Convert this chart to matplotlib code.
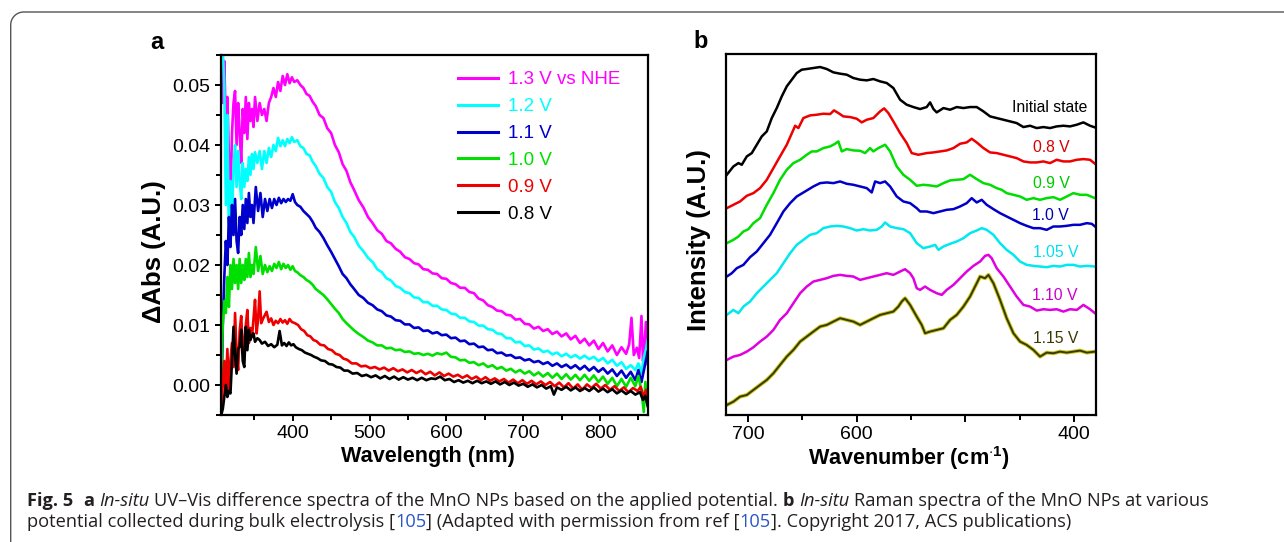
import numpy as np
import matplotlib
import matplotlib.pyplot as plt
from matplotlib.lines import Line2D
from matplotlib.transforms import IdentityTransform
from matplotlib import font_manager

# ---------------- data: panel a, UV-Vis difference spectra (nm, dAbs) ----------------
uv_labels = ["1.3 V vs NHE", "1.2 V", "1.1 V", "1.0 V", "0.9 V", "0.8 V"]
uv_colors = ["#ff00ff", "#00ffff", "#0000cc", "#00e000", "#ee0000", "#000000"]

uv_13 = [(307, 0.056), (309, 0.047), (311, 0.054), (313, 0.043), (315, 0.048), (317, 0.038), (319, 0.031),
         (321, 0.042), (323, 0.047), (325, 0.049), (327, 0.040), (329, 0.047), (331, 0.042), (333, 0.037),
         (335, 0.046), (337, 0.042), (339, 0.048), (341, 0.041), (343, 0.047), (345, 0.044), (347, 0.046),
         (349, 0.043), (351, 0.048), (354, 0.044), (357, 0.047), (360, 0.045), (363, 0.046), (366, 0.044),
         (369, 0.047), (372, 0.048), (375, 0.0495), (378, 0.048), (381, 0.0505), (384, 0.049), (387, 0.0515),
         (390, 0.0500), (393, 0.0518), (396, 0.0503), (399, 0.0513), (402, 0.0505), (406, 0.0508), (410, 0.0500),
         (414, 0.0495), (418, 0.0485), (422, 0.0482), (426, 0.0472), (430, 0.0465), (435, 0.0450), (440, 0.0445),
         (445, 0.0428), (450, 0.0420), (455, 0.0400), (460, 0.0388), (465, 0.0368), (470, 0.0357), (475, 0.0338),
         (480, 0.0325), (486, 0.0308), (492, 0.0296), (498, 0.0280), (504, 0.0270), (510, 0.0258), (516, 0.0252),
         (522, 0.0240), (528, 0.0236), (534, 0.0227), (540, 0.0222), (546, 0.0213), (552, 0.0210), (558, 0.0203),
         (564, 0.0201), (570, 0.0193), (576, 0.0192), (582, 0.0186), (588, 0.0185), (594, 0.0178), (600, 0.0177),
         (606, 0.0170), (612, 0.0168), (618, 0.0162), (624, 0.0162), (630, 0.0155), (636, 0.0153), (642, 0.0144),
         (648, 0.0141), (654, 0.0133), (660, 0.0130), (666, 0.0124), (672, 0.0123), (678, 0.0117), (684, 0.0116),
         (690, 0.0109), (696, 0.0110), (702, 0.0102), (708, 0.0101), (714, 0.0094), (720, 0.0097), (726, 0.0090),
         (732, 0.0093), (738, 0.0085), (744, 0.0089), (750, 0.0081), (756, 0.0086), (762, 0.0076), (768, 0.0082),
         (774, 0.0070), (780, 0.0077), (786, 0.0066), (792, 0.0074), (798, 0.0060), (804, 0.0070), (810, 0.0056),
         (816, 0.0066), (822, 0.0050), (828, 0.0063), (834, 0.0052), (838, 0.0068), (841, 0.0112), (844, 0.0050),
         (848, 0.0062), (851, 0.0045), (854, 0.0115), (856, 0.0040), (858, 0.0070), (860, 0.0105), (862, 0.0035)]

uv_12 = [(307, 0.056), (309, 0.056), (311, 0.050), (313, 0.030), (315, 0.045), (317, 0.024), (319, 0.034),
         (321, 0.028), (323, 0.036), (325, 0.040), (327, 0.033), (329, 0.039), (331, 0.034), (333, 0.031),
         (335, 0.037), (337, 0.033), (339, 0.036), (341, 0.034), (343, 0.038), (345, 0.035), (347, 0.0385),
         (349, 0.036), (351, 0.0388), (354, 0.037), (357, 0.039), (360, 0.036), (363, 0.039), (366, 0.037),
         (369, 0.0395), (372, 0.038), (375, 0.040), (378, 0.039), (381, 0.0412), (384, 0.0398), (387, 0.0408),
         (390, 0.0398), (393, 0.0410), (396, 0.0403), (399, 0.0413), (402, 0.0405), (406, 0.0408), (410, 0.0398),
         (414, 0.0395), (418, 0.0385), (422, 0.0383), (426, 0.0372), (430, 0.0365), (435, 0.0352), (440, 0.0345),
         (445, 0.0330), (450, 0.0322), (455, 0.0305), (460, 0.0295), (465, 0.0280), (470, 0.0270), (475, 0.0255),
         (480, 0.0247), (486, 0.0232), (492, 0.0223), (498, 0.0212), (504, 0.0205), (510, 0.0193), (516, 0.0188),
         (522, 0.0178), (528, 0.0174), (534, 0.0165), (540, 0.0162), (546, 0.0155), (552, 0.0153), (558, 0.0146),
         (564, 0.0145), (570, 0.0138), (576, 0.0138), (582, 0.0132), (588, 0.0132), (594, 0.0126), (600, 0.0125),
         (606, 0.0119), (612, 0.0118), (618, 0.0112), (624, 0.0112), (630, 0.0106), (636, 0.0105), (642, 0.0099),
         (648, 0.0099), (654, 0.0093), (660, 0.0092), (666, 0.0086), (672, 0.0085), (678, 0.0078), (684, 0.0078),
         (690, 0.0071), (696, 0.0072), (702, 0.0065), (708, 0.0066), (714, 0.0059), (720, 0.0061), (726, 0.0055),
         (732, 0.0057), (738, 0.0051), (744, 0.0054), (750, 0.0048), (756, 0.0052), (762, 0.0046), (768, 0.0050),
         (774, 0.0044), (780, 0.0049), (786, 0.0043), (792, 0.0047), (798, 0.0040), (804, 0.0045), (810, 0.0036),
         (816, 0.0042), (822, 0.0032), (828, 0.0038), (834, 0.0027), (840, 0.0033), (846, 0.0025), (850, 0.0036),
         (854, 0.0020), (857, 0.0045), (860, 0.0060), (862, 0.0075)]

uv_11 = [(307, -0.005), (309, 0.010), (311, 0.018), (313, 0.024), (315, 0.020), (317, 0.028), (319, 0.023),
         (321, 0.030), (323, 0.025), (325, 0.031), (327, 0.024), (329, 0.022), (331, 0.028), (333, 0.025),
         (335, 0.030), (337, 0.026), (339, 0.031), (341, 0.027), (343, 0.032), (345, 0.028), (347, 0.030),
         (349, 0.027), (352, 0.033), (355, 0.029), (358, 0.032), (361, 0.028), (364, 0.031), (367, 0.029),
         (370, 0.031), (373, 0.0295), (376, 0.031), (379, 0.030), (382, 0.0312), (385, 0.0303), (388, 0.0310),
         (391, 0.0305), (394, 0.0310), (397, 0.0307), (400, 0.0318), (403, 0.0305), (406, 0.0300), (410, 0.0297),
         (414, 0.0290), (418, 0.0285), (422, 0.0280), (426, 0.0272), (430, 0.0262), (435, 0.0255), (440, 0.0245),
         (445, 0.0233), (450, 0.0222), (455, 0.0210), (460, 0.0198), (465, 0.0185), (470, 0.0178), (475, 0.0168),
         (480, 0.0160), (486, 0.0150), (492, 0.0145), (498, 0.0137), (504, 0.0133), (510, 0.0126), (516, 0.0123),
         (522, 0.0116), (528, 0.0114), (534, 0.0108), (540, 0.0107), (546, 0.0101), (552, 0.0101), (558, 0.0095),
         (564, 0.0096), (570, 0.0090), (576, 0.0091), (582, 0.0086), (588, 0.0088), (594, 0.0083), (600, 0.0084),
         (606, 0.0078), (612, 0.0079), (618, 0.0073), (624, 0.0074), (630, 0.0068), (636, 0.0069), (642, 0.0063),
         (648, 0.0064), (654, 0.0058), (660, 0.0059), (666, 0.0053), (672, 0.0054), (678, 0.0049), (684, 0.0050),
         (690, 0.0045), (696, 0.0046), (702, 0.0041), (708, 0.0043), (714, 0.0038), (720, 0.0040), (726, 0.0035),
         (732, 0.0038), (738, 0.0032), (744, 0.0036), (750, 0.0030), (756, 0.0034), (762, 0.0028), (768, 0.0033),
         (774, 0.0026), (780, 0.0032), (786, 0.0024), (792, 0.0030), (798, 0.0022), (804, 0.0028), (810, 0.0019),
         (816, 0.0026), (822, 0.0015), (828, 0.0024), (834, 0.0012), (840, 0.0022), (846, 0.0008), (850, 0.0025),
         (854, 0.0005), (858, 0.0030), (862, 0.0055)]

uv_10 = [(307, 0.002), (309, 0.010), (311, 0.014), (313, 0.012), (315, 0.018), (317, 0.013), (319, 0.020),
         (321, 0.016), (323, 0.021), (325, 0.017), (327, 0.020), (329, 0.016), (331, 0.021), (333, 0.017),
         (335, 0.020), (337, 0.0175), (339, 0.021), (341, 0.018), (343, 0.022), (345, 0.018), (347, 0.020),
         (349, 0.0185), (352, 0.023), (355, 0.019), (358, 0.0215), (361, 0.0185), (364, 0.020), (367, 0.0188),
         (370, 0.0198), (373, 0.019), (376, 0.0202), (379, 0.0195), (382, 0.0205), (385, 0.0193), (388, 0.0202),
         (391, 0.0195), (394, 0.0200), (397, 0.0192), (400, 0.0198), (403, 0.0190), (406, 0.0188), (410, 0.0183),
         (414, 0.0180), (418, 0.0175), (422, 0.0172), (426, 0.0167), (430, 0.0160), (435, 0.0155), (440, 0.0150),
         (445, 0.0143), (450, 0.0135), (455, 0.0127), (460, 0.0120), (465, 0.0110), (470, 0.0103), (475, 0.0097),
         (480, 0.0091), (486, 0.0085), (492, 0.0080), (498, 0.0074), (504, 0.0071), (510, 0.0066), (516, 0.0066),
         (522, 0.0061), (528, 0.0062), (534, 0.0058), (540, 0.0059), (546, 0.0055), (552, 0.0056), (558, 0.0052),
         (564, 0.0053), (570, 0.0050), (576, 0.0052), (582, 0.0049), (588, 0.0053), (594, 0.0051), (600, 0.0054),
         (606, 0.0047), (612, 0.0046), (618, 0.0041), (624, 0.0042), (630, 0.0037), (636, 0.0038), (642, 0.0033),
         (648, 0.0036), (654, 0.0030), (660, 0.0033), (666, 0.0027), (672, 0.0030), (678, 0.0024), (684, 0.0027),
         (690, 0.0021), (696, 0.0025), (702, 0.0019), (708, 0.0023), (714, 0.0016), (720, 0.0021), (726, 0.0014),
         (732, 0.0020), (738, 0.0012), (744, 0.0019), (750, 0.0010), (756, 0.0018), (762, 0.0009), (768, 0.0017),
         (774, 0.0008), (780, 0.0017), (786, 0.0007), (792, 0.0016), (798, 0.0005), (804, 0.0014), (810, 0.0002),
         (816, 0.0012), (822, -0.0002), (828, 0.0010), (834, -0.0003), (840, 0.0012), (846, -0.0002), (850, 0.0015),
         (854, -0.0010), (857, -0.0045), (859, 0.0005), (862, -0.0030)]

uv_09 = [(307, -0.004), (309, 0.000), (311, 0.004), (313, -0.001), (315, 0.006), (317, -0.001), (319, 0.004),
         (321, 0.007), (323, 0.003), (325, 0.012), (327, 0.005), (329, 0.0025), (331, 0.009), (333, 0.0115),
         (335, 0.006), (337, 0.007), (339, 0.010), (341, 0.0125), (343, 0.007), (345, 0.0095), (347, 0.008),
         (349, 0.011), (351, 0.0142), (353, 0.0086), (355, 0.011), (357, 0.0156), (359, 0.0103), (362, 0.0112),
         (366, 0.0122), (369, 0.0105), (372, 0.0111), (375, 0.0100), (378, 0.0107), (381, 0.0103), (384, 0.0110),
         (387, 0.0104), (390, 0.0108), (393, 0.0102), (396, 0.0110), (399, 0.0105), (403, 0.0103), (407, 0.0100),
         (411, 0.0093), (415, 0.0090), (419, 0.0083), (423, 0.0081), (427, 0.0075), (431, 0.0073), (436, 0.0067),
         (441, 0.0066), (446, 0.0060), (451, 0.0058), (456, 0.0052), (461, 0.0050), (466, 0.0044), (471, 0.0042),
         (477, 0.0036), (483, 0.0036), (489, 0.0031), (495, 0.0032), (501, 0.0028), (507, 0.0030), (513, 0.0026),
         (519, 0.0029), (525, 0.0024), (531, 0.0028), (537, 0.0023), (543, 0.0026), (549, 0.0021), (555, 0.0025),
         (561, 0.0020), (567, 0.0024), (573, 0.0018), (579, 0.0022), (585, 0.0016), (591, 0.0021), (597, 0.0015),
         (603, 0.0019), (609, 0.0014), (615, 0.0017), (621, 0.0012), (627, 0.0016), (633, 0.0010), (639, 0.0014),
         (645, 0.0008), (651, 0.0013), (657, 0.0007), (663, 0.0011), (669, 0.0006), (675, 0.0010), (681, 0.0004),
         (687, 0.0009), (693, 0.0003), (699, 0.0008), (705, 0.0002), (711, 0.0007), (717, 0.0001), (723, 0.0006),
         (729, 0.0000), (735, 0.0005), (741, -0.0002), (747, 0.0004), (753, -0.0004), (759, 0.0003), (765, -0.0006),
         (771, 0.0001), (777, -0.0008), (783, 0.0001), (789, -0.0005), (795, 0.0002), (801, -0.0006), (807, 0.0000),
         (813, -0.0008), (819, -0.0002), (825, -0.0010), (831, -0.0004), (837, -0.0012), (843, -0.0005),
         (849, -0.0010), (853, -0.0003), (857, -0.0020), (860, -0.0008), (862, -0.0030)]

uv_08 = [(307, -0.005), (309, -0.004), (311, -0.002), (313, 0.000), (315, -0.002), (317, -0.001), (319, -0.0014),
         (321, 0.004), (323, 0.0097), (325, 0.005), (327, 0.0019), (329, 0.006), (331, 0.0064), (333, 0.0092),
         (335, 0.004), (337, 0.003), (339, 0.0097), (341, 0.0058), (343, 0.0092), (345, 0.0075), (347, 0.0083),
         (349, 0.0086), (351, 0.0072), (354, 0.0078), (357, 0.0075), (360, 0.0069), (364, 0.0072), (368, 0.0065),
         (372, 0.0068), (376, 0.0063), (380, 0.0067), (383, 0.0090), (386, 0.0066), (389, 0.0070), (392, 0.0065),
         (395, 0.0071), (398, 0.0066), (401, 0.0068), (404, 0.0063), (408, 0.0060), (412, 0.0058), (416, 0.0054),
         (420, 0.0052), (424, 0.0050), (428, 0.0047), (432, 0.0045), (437, 0.0041), (442, 0.0040), (447, 0.0035),
         (452, 0.0034), (457, 0.0030), (462, 0.0029), (467, 0.0024), (472, 0.0024), (478, 0.0019), (484, 0.0020),
         (490, 0.0015), (496, 0.0017), (502, 0.0013), (508, 0.0016), (514, 0.0011), (520, 0.0015), (526, 0.0010),
         (532, 0.0014), (538, 0.0009), (544, 0.0013), (550, 0.0009), (556, 0.0012), (562, 0.0008), (568, 0.0012),
         (574, 0.0008), (580, 0.0011), (586, 0.0010), (592, 0.0014), (598, 0.0008), (604, 0.0010), (610, 0.0005),
         (616, 0.0008), (622, 0.0004), (628, 0.0007), (634, 0.0003), (640, 0.0007), (646, 0.0003), (652, 0.0006),
         (658, 0.0002), (664, 0.0006), (670, 0.0001), (676, 0.0005), (682, 0.0000), (688, 0.0004), (694, -0.0001),
         (700, 0.0002), (706, -0.0003), (712, 0.0001), (718, -0.0004), (724, 0.0000), (730, -0.0006), (736, -0.0002),
         (740, -0.0016), (744, -0.0004), (750, -0.0008), (756, -0.0003), (762, -0.0009), (768, -0.0004),
         (774, -0.0010), (780, -0.0005), (786, -0.0010), (792, -0.0004), (798, -0.0011), (804, -0.0006),
         (810, -0.0012), (816, -0.0007), (822, -0.0014), (828, -0.0009), (834, -0.0015), (840, -0.0010),
         (846, -0.0016), (852, -0.0012), (856, -0.0025), (859, -0.0018), (862, -0.0035)]

uv_series = [uv_13, uv_12, uv_11, uv_10, uv_09, uv_08]

# ---------------- data: panel b, Raman spectra (cm-1, intensity a.u., offset stack) ----------------
raman_labels = ["Initial state", "0.8 V", "0.9 V", "1.0 V", "1.05 V", "1.10 V", "1.15 V"]
raman_colors = ["#000000", "#ee0000", "#00dd00", "#0000c8", "#00e8f0", "#e000e0", "#3a3a00"]
raman_text_colors = ["#000000", "#d40000", "#00c800", "#0000b0", "#00e0f0", "#cc00cc", "#3a3a00"]

raman_init = [(719.6, 720), (713.5, 745), (708.9, 755), (705.8, 750), (701.2, 775), (696.6, 785), (692.0, 810),
              (687.4, 835), (682.8, 850), (678.2, 890), (673.6, 920), (669.0, 955), (664.4, 985), (659.8, 1005),
              (655.2, 1025), (650.6, 1035), (646.0, 1037), (639.9, 1040), (633.7, 1043), (627.6, 1037),
              (621.5, 1027), (615.3, 1023), (609.2, 1020), (603.1, 1010), (596.9, 1005), (590.8, 1003),
              (584.7, 1007), (578.5, 1000), (572.4, 995), (566.3, 980), (560.1, 945), (554.0, 930), (547.9, 923),
              (541.7, 917), (535.6, 923), (532.5, 937), (529.4, 917), (526.4, 907), (520.2, 920), (514.1, 915),
              (508.0, 923), (501.8, 920), (495.7, 923), (489.6, 923), (483.4, 910), (477.3, 895), (471.2, 890),
              (465.0, 885), (458.9, 880), (452.8, 875), (446.6, 863), (440.5, 867), (434.4, 860), (428.2, 863),
              (422.1, 860), (416.0, 865), (409.8, 867), (403.7, 865), (397.5, 870), (391.4, 877), (385.3, 867),
              (380.7, 862)]

raman_08 = [(719.6, 620), (713.5, 630), (707.4, 640), (701.2, 657), (695.1, 665), (689.0, 680), (682.8, 705),
            (676.7, 740), (670.6, 775), (664.4, 810), (658.3, 855), (656.7, 867), (653.7, 860), (649.1, 890),
            (642.9, 898), (636.8, 900), (630.7, 903), (624.5, 902), (620.9, 913), (616.9, 905), (612.3, 895),
            (606.1, 893), (600.0, 888), (595.4, 877), (590.8, 885), (584.7, 890), (578.5, 910), (574.8, 919),
            (570.9, 905), (566.3, 880), (560.1, 845), (554.0, 815), (549.4, 785), (543.3, 780), (535.6, 785),
            (529.4, 787), (523.3, 790), (517.2, 793), (511.0, 800), (504.9, 813), (498.8, 817), (494.2, 828),
            (489.6, 817), (483.4, 800), (477.3, 787), (471.2, 785), (465.0, 780), (458.9, 775), (452.8, 770),
            (446.6, 760), (440.5, 757), (434.4, 757), (428.2, 760), (422.1, 755), (416.0, 765), (409.8, 760),
            (403.7, 760), (397.5, 765), (391.4, 767), (385.3, 765), (380.7, 753)]

raman_09 = [(719.6, 515), (713.5, 525), (708.9, 535), (704.3, 550), (699.7, 557), (695.1, 575), (689.0, 590),
            (682.8, 630), (676.7, 665), (670.6, 705), (664.4, 735), (658.3, 755), (652.1, 765), (646.0, 780),
            (641.4, 790), (636.8, 790), (630.7, 800), (624.5, 805), (619.9, 813), (616.9, 820), (613.8, 790),
            (609.2, 797), (603.1, 793), (596.9, 792), (592.3, 785), (587.7, 800), (584.7, 790), (580.1, 800),
            (573.9, 810), (569.3, 790), (563.2, 745), (557.1, 720), (550.9, 705), (544.8, 687), (538.7, 690),
            (532.5, 688), (526.4, 685), (520.2, 695), (514.1, 703), (508.0, 705), (501.8, 707), (495.7, 720),
            (489.6, 707), (483.4, 695), (477.3, 690), (471.2, 680), (466.6, 675), (462.0, 665), (455.8, 660),
            (449.7, 655), (443.6, 645), (437.4, 650), (431.3, 645), (425.2, 650), (419.0, 653), (412.9, 645),
            (406.7, 655), (400.6, 665), (394.5, 660), (388.3, 660), (380.7, 650)]

raman_10 = [(719.6, 415), (715.0, 425), (710.4, 440), (704.3, 450), (698.2, 473), (692.0, 490), (685.9, 515),
            (679.8, 540), (673.6, 575), (667.5, 610), (661.3, 635), (655.2, 655), (647.5, 670), (639.9, 685),
            (633.7, 695), (627.6, 697), (621.5, 695), (615.3, 700), (609.2, 693), (603.1, 690), (596.9, 685),
            (590.8, 680), (586.2, 667), (583.1, 700), (578.5, 695), (573.9, 700), (569.3, 685), (563.2, 655),
            (557.1, 640), (550.9, 635), (544.8, 620), (541.7, 610), (535.6, 610), (529.4, 605), (523.3, 610),
            (517.2, 615), (511.0, 617), (504.9, 625), (498.8, 635), (494.2, 650), (489.6, 637), (485.0, 645),
            (480.4, 630), (474.2, 617), (468.1, 605), (462.0, 595), (455.8, 585), (449.7, 575), (443.6, 567),
            (437.4, 560), (431.3, 560), (425.2, 555), (419.0, 565), (412.9, 565), (406.7, 567), (400.6, 570),
            (394.5, 570), (388.3, 575), (383.7, 573), (380.7, 565)]

raman_105 = [(719.6, 300), (713.5, 315), (708.9, 305), (704.3, 325), (698.2, 340), (692.0, 365), (685.9, 385),
             (679.8, 405), (673.6, 425), (667.5, 455), (661.3, 485), (655.2, 510), (649.1, 525), (642.9, 540),
             (636.8, 545), (630.7, 560), (624.5, 565), (618.4, 567), (612.3, 565), (606.1, 560), (600.0, 553),
             (593.9, 557), (587.7, 553), (581.6, 555), (577.0, 565), (573.9, 577), (569.3, 565), (563.2, 560),
             (557.1, 557), (550.9, 545), (544.8, 515), (538.7, 500), (532.5, 505), (527.9, 510), (524.8, 495),
             (520.2, 505), (514.1, 513), (508.0, 520), (501.8, 530), (495.7, 545), (489.6, 553), (485.0, 560),
             (480.4, 555), (474.2, 540), (468.1, 515), (462.0, 495), (455.8, 480), (449.7, 460), (443.6, 450),
             (437.4, 447), (431.3, 445), (425.2, 443), (419.0, 447), (412.9, 445), (406.7, 450), (400.6, 450),
             (394.5, 445), (388.3, 447), (380.7, 445)]

raman_110 = [(719.6, 165), (713.5, 175), (707.4, 180), (701.2, 190), (695.1, 203), (689.0, 220), (682.8, 235),
             (676.7, 255), (670.6, 285), (664.4, 305), (658.3, 335), (652.1, 365), (646.0, 385), (639.9, 400),
             (633.7, 405), (627.6, 410), (621.5, 417), (615.3, 420), (609.2, 417), (603.1, 415), (596.9, 405),
             (590.8, 410), (584.7, 415), (578.5, 420), (572.4, 425), (566.3, 420), (560.1, 430), (555.5, 437),
             (550.9, 425), (547.9, 410), (544.8, 380), (541.7, 375), (537.1, 385), (532.5, 375), (526.4, 365),
             (521.8, 360), (517.2, 375), (511.0, 390), (504.9, 410), (498.8, 430), (492.6, 447), (486.5, 460),
             (481.9, 477), (478.8, 480), (475.8, 470), (471.2, 440), (465.0, 415), (458.9, 385), (452.8, 355),
             (446.6, 330), (440.5, 325), (434.4, 313), (428.2, 317), (422.1, 315), (416.0, 317), (409.8, 310),
             (403.7, 317), (397.5, 315), (391.4, 330), (385.3, 317), (380.7, 305)]

raman_115 = [(719.6, 30), (713.5, 40), (707.4, 55), (701.2, 60), (695.1, 75), (689.0, 90), (682.8, 105),
             (676.7, 125), (670.6, 150), (664.4, 175), (658.3, 195), (652.1, 220), (646.0, 235), (639.9, 250),
             (633.7, 265), (627.6, 270), (621.5, 280), (615.3, 290), (609.2, 285), (603.1, 280), (596.9, 270),
             (590.8, 280), (584.7, 290), (578.5, 300), (572.4, 305), (566.3, 310), (561.7, 325), (558.6, 340),
             (555.5, 350), (550.9, 330), (544.8, 295), (540.2, 270), (537.1, 245), (532.5, 250), (526.4, 255),
             (520.2, 260), (514.1, 285), (508.0, 300), (501.8, 325), (495.7, 355), (491.1, 385), (486.5, 415),
             (481.9, 410), (478.8, 420), (474.2, 395), (468.1, 345), (462.0, 290), (455.8, 245), (449.7, 220),
             (443.6, 210), (437.4, 195), (431.3, 175), (425.2, 187), (419.0, 185), (412.9, 190), (406.7, 187),
             (400.6, 190), (394.5, 193), (388.3, 187), (380.7, 190)]

raman_series = [raman_init, raman_08, raman_09, raman_10, raman_105, raman_110, raman_115]

# caption
caption_line1 = [("Fig. 5", "bold", "k", 2.2), ("a", "bold", "k", 1), ("In-situ", "italic", "k", 1),
                 ("UV\u2013Vis difference spectra of the MnO NPs based on the applied potential.", "normal", "k", 1),
                 ("b", "bold", "k", 1), ("In-situ", "italic", "k", 1),
                 ("Raman spectra of the MnO NPs at various", "normal", "k", 0)]
caption_line2 = [("potential collected during bulk electrolysis [", "normal", "k", 0), ("105", "normal", "b", 0),
                 ("] (Adapted with permission from ref [", "normal", "k", 0), ("105", "normal", "b", 0),
                 ("]. Copyright 2017, ACS publications)", "normal", "k", 0)]

# ---------------- figure ----------------
W, H = 1284, 542
plt.rcParams['font.family'] = ['Liberation Sans', 'DejaVu Sans']
plt.rcParams['mathtext.fontset'] = 'custom'
plt.rcParams['mathtext.rm'] = 'Liberation Sans'
plt.rcParams['mathtext.bf'] = 'Liberation Sans:bold'

fig = plt.figure(figsize=(W / 100, H / 100), dpi=100)
fig.patch.set_facecolor('white')


def px_axes(x0, y0, x1, y1):
    return fig.add_axes([x0 / W, 1 - y1 / H, (x1 - x0) / W, (y1 - y0) / H])


def style_axes(ax):
    for s in ax.spines.values():
        s.set_linewidth(1.6)
    ax.tick_params(which='both', direction='out', top=False, right=False, width=1.4, labelsize=14, pad=3)
    ax.tick_params(which='major', length=4.5)
    ax.tick_params(which='minor', length=3.5)


# panel a
ax1 = px_axes(221, 55, 648, 415)
for data, col, lab in zip(uv_series, uv_colors, uv_labels):
    arr = np.array(data)
    ax1.plot(arr[:, 0], arr[:, 1], color=col, lw=1.9, label=lab, solid_joinstyle='round')
ax1.set_xlim(306.7, 862.5)
ax1.set_ylim(-0.005, 0.055)
ax1.set_xticks([400, 500, 600, 700, 800])
ax1.set_xticks([350, 450, 550, 650, 750, 850], minor=True)
ax1.set_yticks([0.0, 0.01, 0.02, 0.03, 0.04, 0.05])
ax1.set_yticklabels(["0.00", "0.01", "0.02", "0.03", "0.04", "0.05"])
ax1.set_yticks(np.arange(-0.005, 0.056, 0.01), minor=True)
style_axes(ax1)
ax1.set_xlabel("Wavelength (nm)", fontsize=15.6, fontweight='bold')
ax1.set_ylabel("\u0394Abs (A.U.)", fontsize=18.5, fontweight='bold')
ax1.xaxis.set_label_coords(0.485, -0.085)
ax1.yaxis.set_label_coords(-0.128, 0.455)
leg = ax1.legend(loc='upper left', bbox_to_anchor=(0.555, 0.955), frameon=False, fontsize=13.5,
                 handlelength=2.13, handletextpad=0.53, labelspacing=0.52, borderaxespad=0, borderpad=0,
                 labelcolor='linecolor')
for h in leg.get_lines():
    h.set_linewidth(2.2)

# panel b
ax2 = px_axes(725.7, 54, 1096, 415)
for i, (data, col) in enumerate(zip(raman_series, raman_colors)):
    arr = np.array(data)
    if i == len(raman_series) - 1:
        ax2.plot(arr[:, 0], arr[:, 1], color='#c8c820', lw=2.8, solid_joinstyle='round')
        ax2.plot(arr[:, 0], arr[:, 1], color=col, lw=1.4, solid_joinstyle='round')
    else:
        ax2.plot(arr[:, 0], arr[:, 1], color=col, lw=1.8, solid_joinstyle='round')
ax2.set_xlim(720.6, 379.8)
ax2.set_ylim(0, 1082)
ax2.set_xticks([700, 600, 500, 400])
ax2.set_xticklabels(["700", "600", "", "400"])
ax2.set_xticks([650, 550, 450], minor=True)
ax2.set_yticks([])
style_axes(ax2)
ax2.tick_params(which='major', length=5)
ax2.set_xlabel(r"Wavenumber (cm$^{\mathbf{\cdot 1}}$)", fontsize=15.6, fontweight='bold')
ax2.set_ylabel("Intensity (A.U.)", fontsize=18.5, fontweight='bold')
ax2.xaxis.set_label_coords(0.494, -0.08)
ax2.yaxis.set_label_coords(-0.04, 0.485)

narrow = any(f.name == 'Liberation Sans Narrow' for f in font_manager.fontManager.ttflist)
lab_font = 'Liberation Sans Narrow' if narrow else 'Liberation Sans'
lab_size = 13.0 if narrow else 11.3
lab_pos = [(387.7, 923), (404.3, 802), (404.3, 693), (405.2, 597), (396.0, 488), (396.9, 357), (396.0, 230)]
for (xx, yy), lab, tc in zip(lab_pos, raman_labels, raman_text_colors):
    ax2.text(xx, yy, lab, color=tc, fontsize=lab_size, family=lab_font, ha='right', va='center')

# panel letters
fig.text(150 / W, 1 - 49 / H, "a", fontsize=17, fontweight='bold', va='baseline')
fig.text(693 / W, 1 - 48 / H, "b", fontsize=17, fontweight='bold', va='baseline')

# rounded frame
r = 13
xl, yt = 10.7, 12
t = np.linspace(np.pi, np.pi / 2, 20)
arc_x = xl + r + r * np.cos(t)
arc_y = yt + r - r * np.sin(t)
fx = np.concatenate([[xl], arc_x, [W + 5]])
fy = np.concatenate([[H + 5], arc_y, [yt]])
fig.add_artist(Line2D(fx / W, 1 - fy / H, transform=fig.transFigure, color='#555555', lw=1.0))

# caption
renderer = fig.canvas.get_renderer()
cap_fam = ['Open Sans', 'DejaVu Sans']
colmap = {"k": "#231f20", "b": "#2a56c6"}


def layout(pieces, x0, ybase, size, draw=True):
    sp = fig.text(0, 0, "x x", fontsize=size, family=cap_fam)
    sp2 = fig.text(0, 0, "xx", fontsize=size, family=cap_fam)
    space = sp.get_window_extent(renderer).width - sp2.get_window_extent(renderer).width
    sp.remove()
    sp2.remove()
    x = x0
    for txt, sty, c, gap in pieces:
        kw = dict(fontsize=size, family=cap_fam, color=colmap[c], va='baseline', ha='left',
                  transform=IdentityTransform())
        if sty == 'bold':
            kw['fontweight'] = 'bold'
        if sty == 'italic':
            kw['fontstyle'] = 'italic'
        tt = fig.text(x, H - ybase, txt, **kw)
        w = tt.get_window_extent(renderer).width
        if not draw:
            tt.remove()
        x += w + gap * space
    return x - x0


w10 = layout(caption_line1, 27, 506, 10, draw=False)
cap_size = 10 * 1182 / w10
layout(caption_line1, 27, 506, cap_size)
layout(caption_line2, 27, 527, cap_size)

fig.savefig("out.png", dpi=100)
